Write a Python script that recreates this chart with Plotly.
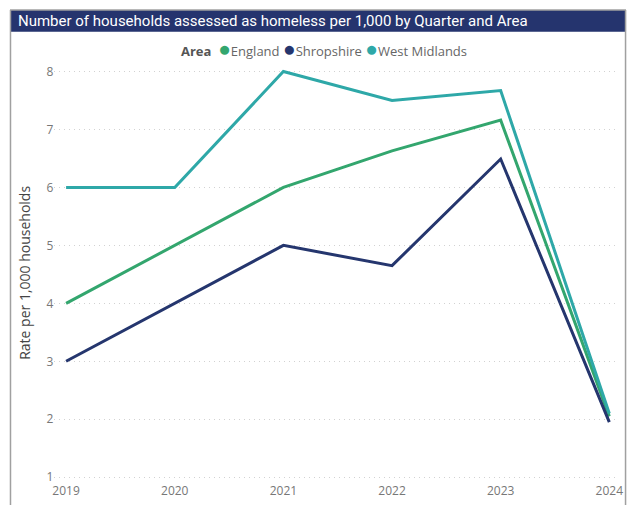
import plotly.graph_objects as go

years = [2019, 2020, 2021, 2022, 2023, 2024]
england = [4.0, 5.0, 6.0, 6.63, 7.16, 2.05]
shropshire = [3.0, 4.0, 5.0, 4.65, 6.49, 1.95]
west_midlands = [6.0, 6.0, 8.0, 7.5, 7.67, 2.1]
y_ticks = [1, 2, 3, 4, 5, 6, 7, 8]

series = [
    ("England", england, "#33A66E"),
    ("Shropshire", shropshire, "#25366E"),
    ("West Midlands", west_midlands, "#2EA8A8"),
]

OFF = 7  # page offset of the figure inside the browser window
W, H = 635 - OFF, 507 - OFF
def px(x): return (x - OFF) / W
def py(y): return 1 - (y - OFF) / H

fig = go.Figure()
for name, vals, col in series:
    fig.add_trace(go.Scatter(x=years, y=vals, mode="lines", name=name,
                             line=dict(color=col, width=3), showlegend=False,
                             hoverinfo="x+y+name"))

# axis geometry in window pixels: 2019 at 64, 2024 at 616; y=8 at 70, y=1 at 479
x0p, x1p = 52, 622
unit_x = (616 - 64) / 5
xr = [2019 - (64 - x0p) / unit_x, 2024 + (x1p - 616) / unit_x]
unit_y = (479 - 70) / 7
top_p, bot_p = 62, 484
yr = [1 - (bot_p - 479) / unit_y, 8 + (70 - top_p) / unit_y]

fig.update_layout(
    width=W, height=H,
    margin=dict(l=0, r=0, t=0, b=0),
    paper_bgcolor="white", plot_bgcolor="white",
    font=dict(family="Segoe UI, Open Sans, sans-serif", color="#666666"),
    xaxis=dict(domain=[px(x0p), px(x1p)], range=xr, tickvals=years,
               ticktext=[str(y) for y in years], showgrid=False, zeroline=False,
               showline=False, ticks="", tickfont=dict(size=12, color="#777777"),
               fixedrange=True),
    yaxis=dict(domain=[py(bot_p), py(top_p)], range=yr, tickvals=y_ticks,
               showgrid=True, gridcolor="#D2D2D2", griddash="1px,4px", gridwidth=1,
               zeroline=False, showline=False, ticks="",
               tickfont=dict(size=12, color="#777777"),
               title=dict(text="Rate per 1,000 households",
                          font=dict(size=14, color="#444444"), standoff=12),
               fixedrange=True),
    showlegend=False,
)

# legend built from the series names and colours
legend_html = "<b style='color:#555555'>Area</b>  " + " ".join(
    f"<span style='color:{c};font-size:21px'>●</span>{n}" for n, _, c in series)
fig.add_annotation(xref="paper", yref="paper", x=px(326), y=py(46), xanchor="center",
                   yanchor="middle", showarrow=False, text=legend_html,
                   font=dict(family="Segoe UI, Open Sans, sans-serif", size=13, color="#666666"))

# frame and title bar
fig.add_shape(type="rect", xref="paper", yref="paper", x0=px(7), x1=px(633),
              y0=py(30), y1=py(8), fillcolor="#25346E", line=dict(width=0), layer="above")
fig.add_shape(type="line", xref="paper", yref="paper", x0=px(7.5), x1=px(7.5),
              y0=py(8), y1=0, line=dict(color="#A0A0A0", width=1.5))
fig.add_shape(type="line", xref="paper", yref="paper", x0=px(632.5), x1=px(632.5),
              y0=py(8), y1=0, line=dict(color="#A0A0A0", width=1.5))
fig.add_shape(type="line", xref="paper", yref="paper", x0=px(7), x1=px(633),
              y0=py(8), y1=py(8), line=dict(color="#A0A0A0", width=1.5))

fig.add_annotation(xref="paper", yref="paper", x=px(13), y=py(19), xanchor="left",
                   yanchor="middle", showarrow=False,
                   text="Number of households assessed as homeless per 1,000 by Quarter and Area",
                   font=dict(family="Roboto, sans-serif", size=15, color="white"))

fig.write_html("out.html")
